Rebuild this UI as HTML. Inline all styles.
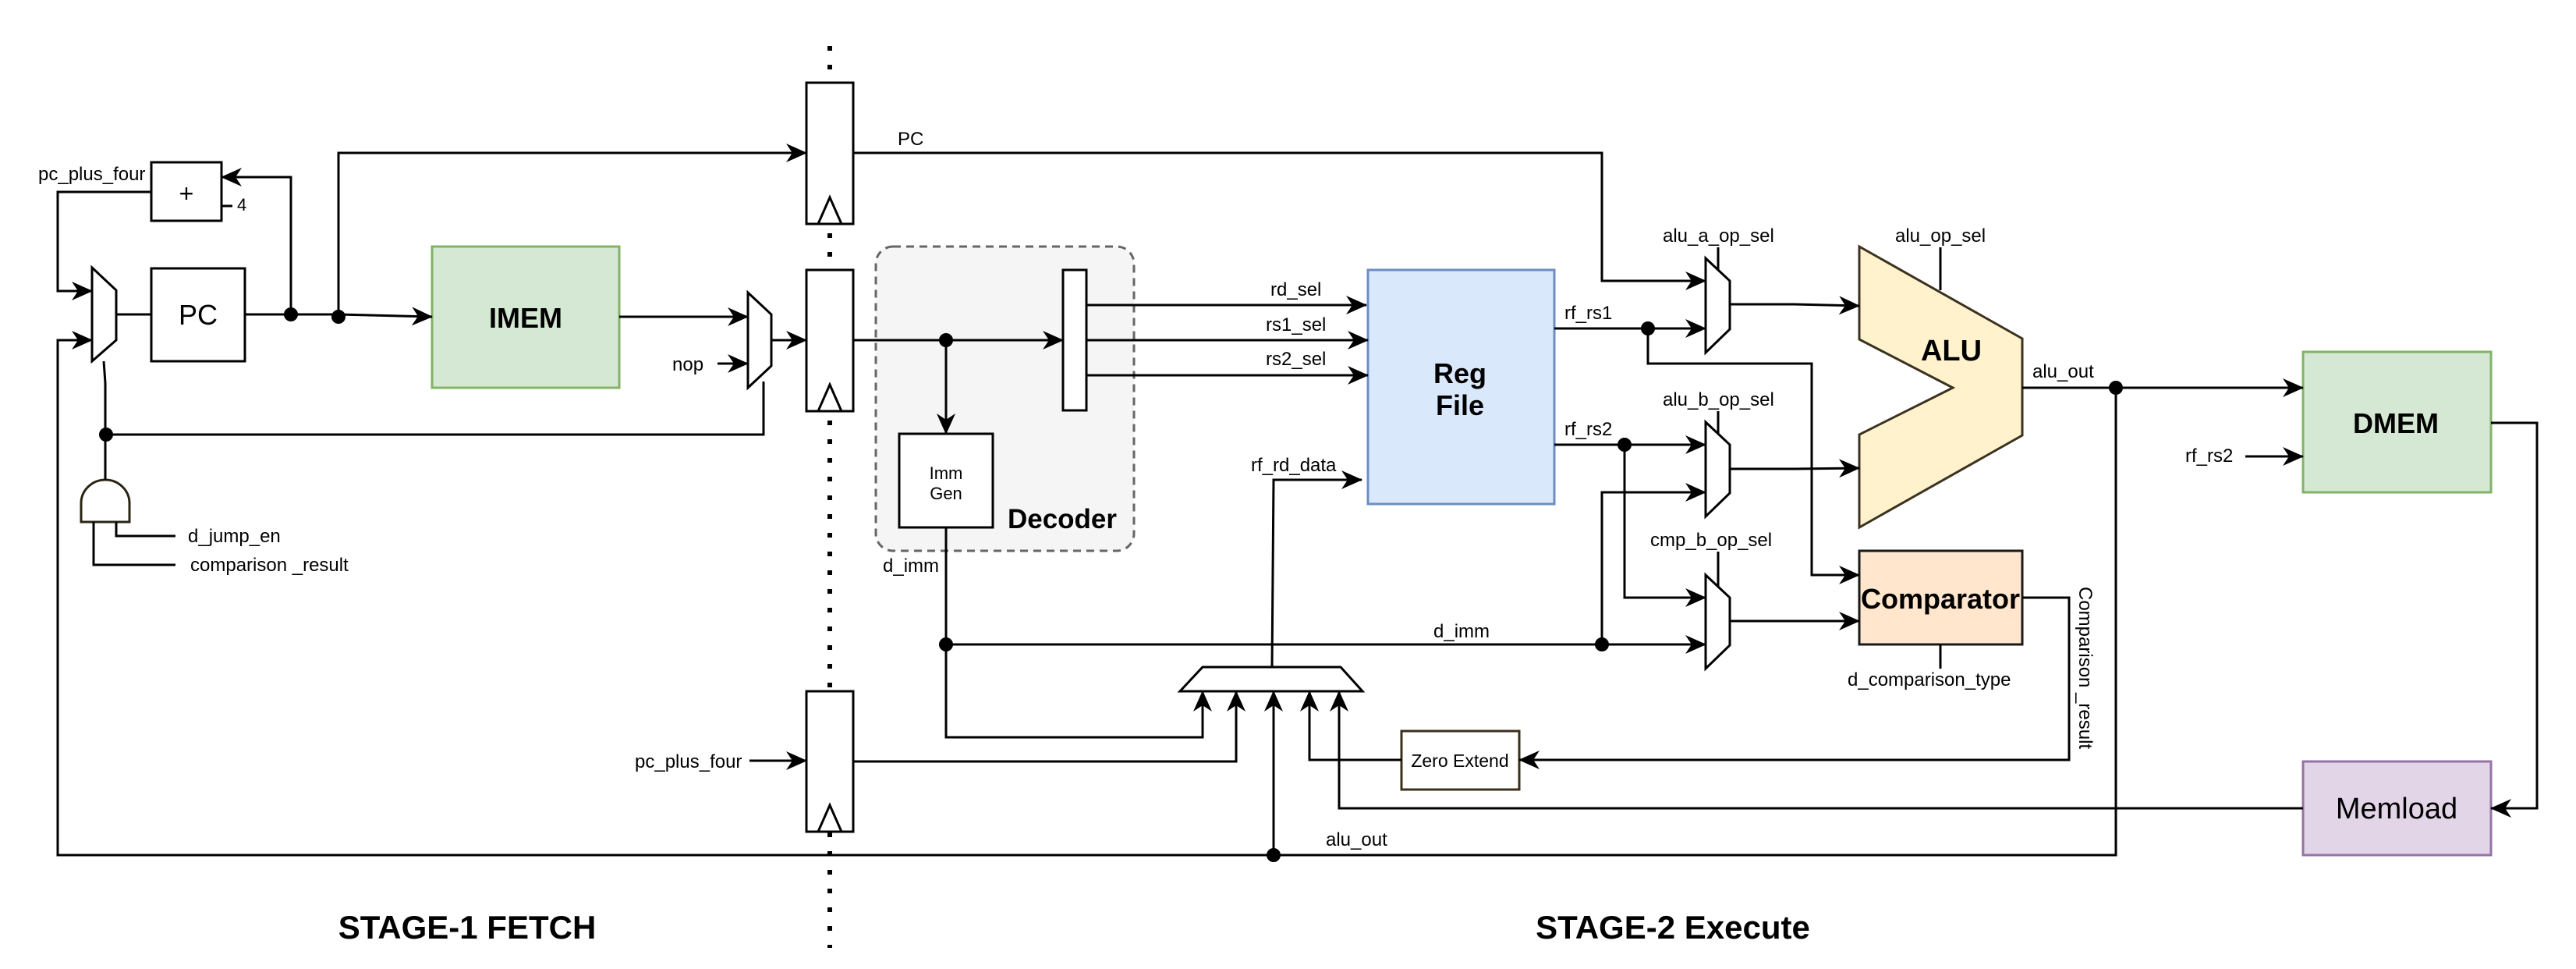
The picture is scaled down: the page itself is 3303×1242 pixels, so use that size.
<!DOCTYPE html>
<html><head><meta charset="utf-8"><style>
html,body{margin:0;padding:0;background:#fff;}
svg{display:block;}
text{font-family:"Liberation Sans",sans-serif;fill:#000;}
</style></head><body>
<svg width="3303" height="1242" viewBox="0 0 3303 1242" xmlns="http://www.w3.org/2000/svg">
<defs>
<marker id="a" markerUnits="userSpaceOnUse" markerWidth="28" markerHeight="24" refX="26" refY="12" orient="auto">
<path d="M0,0 L27,12 L0,24 L8,12 Z" fill="#000"/>
</marker>
</defs>
<g fill="none" stroke="#000" stroke-width="3">
<line x1="1064" y1="59" x2="1064" y2="1215" stroke-width="6" stroke-dasharray="6 18"/>
</g>
<rect x="1123" y="316" width="331" height="390" rx="22" fill="#f5f5f5" stroke="#666" stroke-width="3" stroke-dasharray="10 7"/>
<g fill="#fff" stroke="#000" stroke-width="3">
<rect x="1034" y="106" width="60" height="181"/>
<rect x="1034" y="346" width="60" height="181"/>
<rect x="1034" y="886" width="60" height="180"/>
<rect x="1363" y="346" width="30" height="180"/>
<rect x="1153" y="556" width="120" height="120"/>
<rect x="194" y="208" width="90" height="75"/>
<rect x="194" y="344" width="120" height="119"/>
</g>
<g fill="none" stroke="#000" stroke-width="3">
<path d="M1049,287 L1064,253 L1079,287"/>
<path d="M1049,527 L1064,493 L1079,527"/>
<path d="M1049,1066 L1064,1032 L1079,1066"/>
</g>
<rect x="554" y="316" width="240" height="181" fill="#d5e8d4" stroke="#82b366" stroke-width="3"/>
<rect x="1754" y="346" width="239" height="300" fill="#dae8fc" stroke="#6c8ebf" stroke-width="3"/>
<rect x="2953" y="451" width="241" height="180" fill="#d5e8d4" stroke="#82b366" stroke-width="3"/>
<rect x="2953" y="976" width="241" height="120" fill="#e1d5e7" stroke="#9673a6" stroke-width="3"/>
<rect x="2384" y="706" width="209" height="120" fill="#ffe6cc" stroke="#1a1a1a" stroke-width="3"/>
<rect x="1797" y="937" width="151" height="75" fill="#fff" stroke="#3b2f1b" stroke-width="3"/>
<polygon points="2384,316 2593,434 2593,558 2384,676 2384,557 2504,497 2384,435" fill="#fff2cc" stroke="#3b3220" stroke-width="3"/>
<g fill="#fff" stroke="#000" stroke-width="3">
<polygon points="118,343 149,372 149,436 118,463"/>
<polygon points="959,375 989,403 989,469 959,497"/>
<polygon points="2187,331 2218,360 2218,422 2187,452"/>
<polygon points="2187,541 2218,570 2218,632 2187,662"/>
<polygon points="2187,737 2218,766 2218,827 2187,857"/>
<polygon points="1542,855 1719,855 1747,886 1513,886"/>
</g>
<path d="M104,669 H166 V645 A31,30 0 0 0 104,645 Z" fill="#fff" stroke="#2a2416" stroke-width="3"/>
<g fill="none" stroke="#000" stroke-width="3">
<path d="M194,246 H74 V373 H118" marker-end="url(#a)"/>
<path d="M2713,497 V1096 H74 V436 H118" marker-end="url(#a)"/>
<path d="M149,403 H194"/>
<path d="M314,403 H434 L554,406" marker-end="url(#a)"/>
<path d="M373,403 V227 H284" marker-end="url(#a)"/>
<path d="M434,406 V196 H1034" marker-end="url(#a)"/>
<path d="M794,406 H959" marker-end="url(#a)"/>
<path d="M920,466 H959" marker-end="url(#a)"/>
<path d="M989,436 H1034" marker-end="url(#a)"/>
<path d="M133,463 L135,491 V615"/>
<path d="M136,557 H979 V489"/>
<path d="M149,669 V687 H225"/>
<path d="M120,669 V724 H225"/>
<path d="M284,264 H298"/>
<path d="M1094,196 H2054 V360 H2187" marker-end="url(#a)"/>
<path d="M1094,436 H1363" marker-end="url(#a)"/>
<path d="M1213,436 V556" marker-end="url(#a)"/>
<path d="M1393,391 H1752" marker-end="url(#a)"/>
<path d="M1393,436 H1754" marker-end="url(#a)"/>
<path d="M1393,481 H1754" marker-end="url(#a)"/>
<path d="M1213,676 V945 H1542 V886" marker-end="url(#a)"/>
<path d="M1213,826 H2187" marker-end="url(#a)"/>
<path d="M2054,826 V631 H2187" marker-end="url(#a)"/>
<path d="M1094,976 H1585 V886" marker-end="url(#a)"/>
<path d="M961,975 H1034" marker-end="url(#a)"/>
<path d="M1631,855 L1633,615 H1746" marker-end="url(#a)"/>
<path d="M1633,1096 V886" marker-end="url(#a)"/>
<path d="M1797,974 H1679 V886" marker-end="url(#a)"/>
<path d="M2593,766 H2653 V974 H1948" marker-end="url(#a)"/>
<path d="M2953,1036 H1717 V886" marker-end="url(#a)"/>
<path d="M3194,542 H3253 V1036 H3194" marker-end="url(#a)"/>
<path d="M2879,585 H2953" marker-end="url(#a)"/>
<path d="M2593,497 H2953" marker-end="url(#a)"/>
<path d="M1993,421 H2187" marker-end="url(#a)"/>
<path d="M2113,421 V466 H2323 V737 H2384" marker-end="url(#a)"/>
<path d="M1993,570 H2187" marker-end="url(#a)"/>
<path d="M2083,570 V766 H2187" marker-end="url(#a)"/>
<path d="M2218,390 H2300 L2384,392" marker-end="url(#a)"/>
<path d="M2218,601 H2300 L2384,600" marker-end="url(#a)"/>
<path d="M2218,796 H2384" marker-end="url(#a)"/>
<path d="M2203,317 V346"/>
<path d="M2203,527 V556"/>
<path d="M2203,707 V752"/>
<path d="M2488,317 V372"/>
<path d="M2488,826 V857"/>
</g>
<g fill="#000">
<circle cx="373" cy="403" r="9"/><circle cx="434" cy="406" r="9"/>
<circle cx="136" cy="557" r="9"/><circle cx="1213" cy="436" r="9"/>
<circle cx="1213" cy="826" r="9"/><circle cx="2054" cy="826" r="9"/>
<circle cx="1633" cy="1096" r="9"/><circle cx="2113" cy="421" r="9"/>
<circle cx="2083" cy="570" r="9"/><circle cx="2713" cy="497" r="9"/>
</g>
<g font-size="24">
<text x="49" y="231">pc_plus_four</text>
<text x="304" y="270" font-size="22">4</text>
<text x="241" y="695">d_jump_en</text>
<text x="244" y="732">comparison _result</text>
<text x="862" y="475">nop</text>
<text x="814" y="984">pc_plus_four</text>
<text x="1151" y="186">PC</text>
<text x="1629" y="379">rd_sel</text>
<text x="1623" y="424">rs1_sel</text>
<text x="1623" y="468">rs2_sel</text>
<text x="1604" y="604">rf_rd_data</text>
<text x="1132" y="733">d_imm</text>
<text x="1838" y="817">d_imm</text>
<text x="1700" y="1084">alu_out</text>
<text x="2006" y="409">rf_rs1</text>
<text x="2006" y="558">rf_rs2</text>
<text x="2132" y="310">alu_a_op_sel</text>
<text x="2132" y="520">alu_b_op_sel</text>
<text x="2116" y="700">cmp_b_op_sel</text>
<text x="2430" y="310">alu_op_sel</text>
<text x="2606" y="484">alu_out</text>
<text x="2802" y="592">rf_rs2</text>
<text x="2369" y="879">d_comparison_type</text>
<text transform="translate(2666,752) rotate(90)">Comparison _result</text>
<text x="1872" y="983" text-anchor="middle" font-size="23">Zero Extend</text>
<text x="1213" y="614" text-anchor="middle" font-size="22">Imm</text>
<text x="1213" y="640" text-anchor="middle" font-size="22">Gen</text>
</g>
<text x="239" y="259" text-anchor="middle" font-size="32">+</text>
<text x="254" y="416" text-anchor="middle" font-size="36">PC</text>
<text x="674" y="420" text-anchor="middle" font-size="36" font-weight="bold">IMEM</text>
<text x="1872" y="491" text-anchor="middle" font-size="36" font-weight="bold">Reg</text>
<text x="1872" y="532" text-anchor="middle" font-size="36" font-weight="bold">File</text>
<text x="1362" y="677" text-anchor="middle" font-size="35" font-weight="bold">Decoder</text>
<text x="2502" y="462" text-anchor="middle" font-size="38" font-weight="bold">ALU</text>
<text x="2488" y="780" text-anchor="middle" font-size="36" font-weight="bold">Comparator</text>
<text x="3072" y="555" text-anchor="middle" font-size="36" font-weight="bold">DMEM</text>
<text x="3073" y="1049" text-anchor="middle" font-size="38">Memload</text>
<text x="599" y="1203" text-anchor="middle" font-size="42" font-weight="bold">STAGE-1 FETCH</text>
<text x="2145" y="1203" text-anchor="middle" font-size="42" font-weight="bold">STAGE-2 Execute</text>
</svg>
</body></html>
